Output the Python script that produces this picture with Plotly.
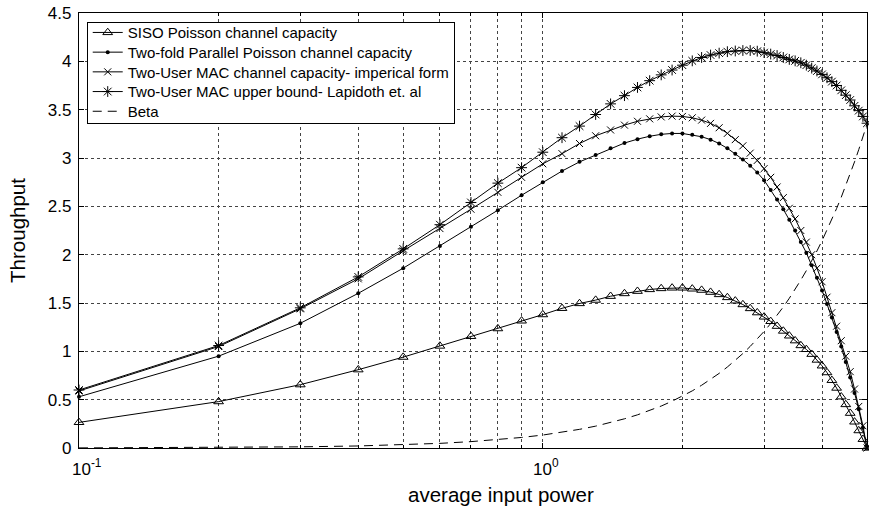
import plotly.graph_objects as go

x_power = [0.1, 0.2, 0.3, 0.4, 0.5, 0.6, 0.7, 0.8, 0.9, 1.0,
           1.1, 1.2, 1.3, 1.4, 1.5, 1.6, 1.7, 1.8, 1.9, 2.0,
           2.1, 2.2, 2.3, 2.4, 2.5, 2.6, 2.7, 2.8, 2.9, 3.0,
           3.1, 3.2, 3.3, 3.4, 3.5, 3.6, 3.7, 3.8, 3.9, 4.0,
           4.1, 4.2, 4.3, 4.4, 4.5, 4.6, 4.7, 4.8, 4.9, 5.0]

siso = [0.265, 0.48, 0.655, 0.81, 0.94, 1.055, 1.155, 1.235, 1.315, 1.38,
        1.445, 1.495, 1.53, 1.57, 1.598, 1.622, 1.64, 1.65, 1.656, 1.656,
        1.646, 1.633, 1.612, 1.588, 1.557, 1.522, 1.484, 1.443, 1.40, 1.356,
        1.31, 1.26, 1.21, 1.16, 1.11, 1.06, 1.02, 0.97, 0.91, 0.85,
        0.78, 0.70, 0.62, 0.53, 0.45, 0.36, 0.27, 0.18, 0.09, 0.0]

parallel = [0.53, 0.95, 1.29, 1.60, 1.86, 2.09, 2.29, 2.46, 2.615, 2.75,
            2.865, 2.96, 3.03, 3.10, 3.155, 3.195, 3.225, 3.245, 3.254, 3.254,
            3.24, 3.22, 3.19, 3.15, 3.10, 3.045, 2.985, 2.92, 2.85, 2.77,
            2.67, 2.57, 2.47, 2.36, 2.25, 2.13, 2.02, 1.89, 1.76, 1.63,
            1.49, 1.35, 1.20, 1.05, 0.89, 0.73, 0.57, 0.40, 0.21, 0.0]

mac_emp = [0.59, 1.05, 1.44, 1.75, 2.04, 2.27, 2.47, 2.645, 2.80, 2.94,
           3.045, 3.15, 3.23, 3.29, 3.34, 3.38, 3.405, 3.425, 3.433, 3.43,
           3.416, 3.392, 3.358, 3.313, 3.255, 3.19, 3.126, 3.05, 2.975, 2.89,
           2.80, 2.70, 2.59, 2.48, 2.37, 2.25, 2.13, 2.00, 1.86, 1.72,
           1.56, 1.40, 1.26, 1.11, 0.95, 0.79, 0.61, 0.43, 0.23, 0.0]

mac_upper = [0.60, 1.06, 1.45, 1.77, 2.06, 2.31, 2.54, 2.74, 2.90, 3.06,
             3.21, 3.33, 3.45, 3.56, 3.645, 3.73, 3.80, 3.86, 3.91, 3.96,
             4.005, 4.04, 4.065, 4.085, 4.10, 4.107, 4.112, 4.112, 4.105, 4.09,
             4.075, 4.06, 4.04, 4.02, 4.005, 3.985, 3.96, 3.93, 3.90, 3.865,
             3.83, 3.79, 3.75, 3.70, 3.65, 3.60, 3.54, 3.49, 3.43, 3.36]

beta = [0.001, 0.005, 0.012, 0.021, 0.034, 0.048, 0.066, 0.086, 0.109, 0.134,
        0.162, 0.193, 0.226, 0.263, 0.302, 0.343, 0.387, 0.434, 0.484, 0.536,
        0.591, 0.649, 0.709, 0.772, 0.838, 0.906, 0.977, 1.051, 1.127, 1.206,
        1.288, 1.372, 1.459, 1.549, 1.642, 1.737, 1.835, 1.935, 2.038, 2.144,
        2.253, 2.364, 2.478, 2.594, 2.714, 2.835, 2.960, 3.087, 3.217, 3.35]

names = ["SISO Poisson channel capacity",
         "Two-fold Parallel Poisson channel capacity",
         "Two-User MAC channel capacity- imperical form",
         "Two-User MAC upper bound- Lapidoth et. al",
         "Beta"]

x_tickvals = [0.1, 1]
x_ticktext = ["\u00a0\u00a010<sup>-1</sup>", "10<sup>0</sup>"]
x_minor = [0.2, 0.3, 0.4, 0.5, 0.6, 0.7, 0.8, 0.9, 2, 3, 4]
y_ticks = [0, 0.5, 1, 1.5, 2, 2.5, 3, 3.5, 4, 4.5]

FONT = "Liberation Sans"

fig = go.Figure()
line = dict(color="black", width=1)
fig.add_trace(go.Scatter(x=x_power, y=siso, name=names[0], mode="lines+markers",
                         line=line, cliponaxis=False,
                         marker=dict(symbol="triangle-up-open", size=8.5, color="black",
                                     line=dict(width=1, color="black"))))
fig.add_trace(go.Scatter(x=x_power, y=parallel, name=names[1], mode="lines+markers",
                         line=line, cliponaxis=False,
                         marker=dict(symbol="circle", size=4, color="black")))
fig.add_trace(go.Scatter(x=x_power, y=mac_emp, name=names[2], mode="lines+markers",
                         line=line, cliponaxis=False,
                         marker=dict(symbol="x-thin-open", size=7, color="black",
                                     line=dict(width=1, color="black"))))
fig.add_trace(go.Scatter(x=x_power, y=mac_upper, name=names[3], mode="lines+markers",
                         line=line, cliponaxis=False,
                         marker=dict(symbol="asterisk-open", size=9, color="black",
                                     line=dict(width=1, color="black"))))
fig.add_trace(go.Scatter(x=x_power, y=beta, name=names[4], mode="lines",
                         line=dict(color="black", width=1, dash="9px,6px")))

axis_common = dict(showline=True, linecolor="black", linewidth=1.2, mirror="ticks",
                   ticks="inside", ticklen=5, tickcolor="black",
                   showgrid=True, gridcolor="#444", gridwidth=1, griddash="3px,3px",
                   zeroline=False, tickfont=dict(family=FONT, size=17, color="black"))

fig.update_xaxes(type="log", range=[-1, 0.699], tickvals=x_tickvals, ticktext=x_ticktext,
                 ticklabelshift=3, ticklabelstandoff=5,
                 minor=dict(tickvals=x_minor, ticks="inside", ticklen=3, tickcolor="black",
                            showgrid=True, gridcolor="#444", gridwidth=1, griddash="3px,3px"),
                 **axis_common)
fig.update_yaxes(range=[0, 4.5], tickvals=y_ticks,
                 title=dict(text="Throughput", font=dict(family=FONT, size=20.5, color="black"),
                            standoff=16),
                 ticklabelstandoff=3,
                 **axis_common)

fig.add_annotation(text="average input power", xref="paper", yref="paper",
                   x=0.5355, y=-0.106, xanchor="center", yanchor="middle", showarrow=False,
                   font=dict(family=FONT, size=20.5, color="black"))

fig.update_layout(
    width=869, height=507,
    margin=dict(l=79, r=2, t=13, b=59, autoexpand=False),
    paper_bgcolor="white", plot_bgcolor="white",
    showlegend=True,
    legend=dict(x=0.0098, y=0.98, xanchor="left", yanchor="top",
                bgcolor="white", bordercolor="black", borderwidth=1,
                font=dict(family=FONT, size=15, color="black"),
                itemwidth=30, tracegroupgap=0),
    font=dict(family=FONT, color="black"),
)

post = r"""
document.body.style.margin='0';
document.body.style.overflow='hidden';
var gd=document.querySelector('.js-plotly-plot');
var tr=gd.querySelectorAll('.legend .traces');
var re=/translate\(\s*([-\d.]+)[ ,]+([-\d.]+)/;
if(tr.length){
  var m0=tr[0].getAttribute('transform').match(re);
  var y0=parseFloat(m0[2])-6.5;
  tr.forEach(function(t,i){
    var m=t.getAttribute('transform').match(re);
    t.setAttribute('transform','translate('+m[1]+','+(y0+19.7*i)+')');
  });
  var bg=gd.querySelector('.legend rect.bg');
  if(bg){bg.setAttribute('height','101');}
}
"""

fig.write_html("out.html", config={"displayModeBar": False}, post_script=post)
